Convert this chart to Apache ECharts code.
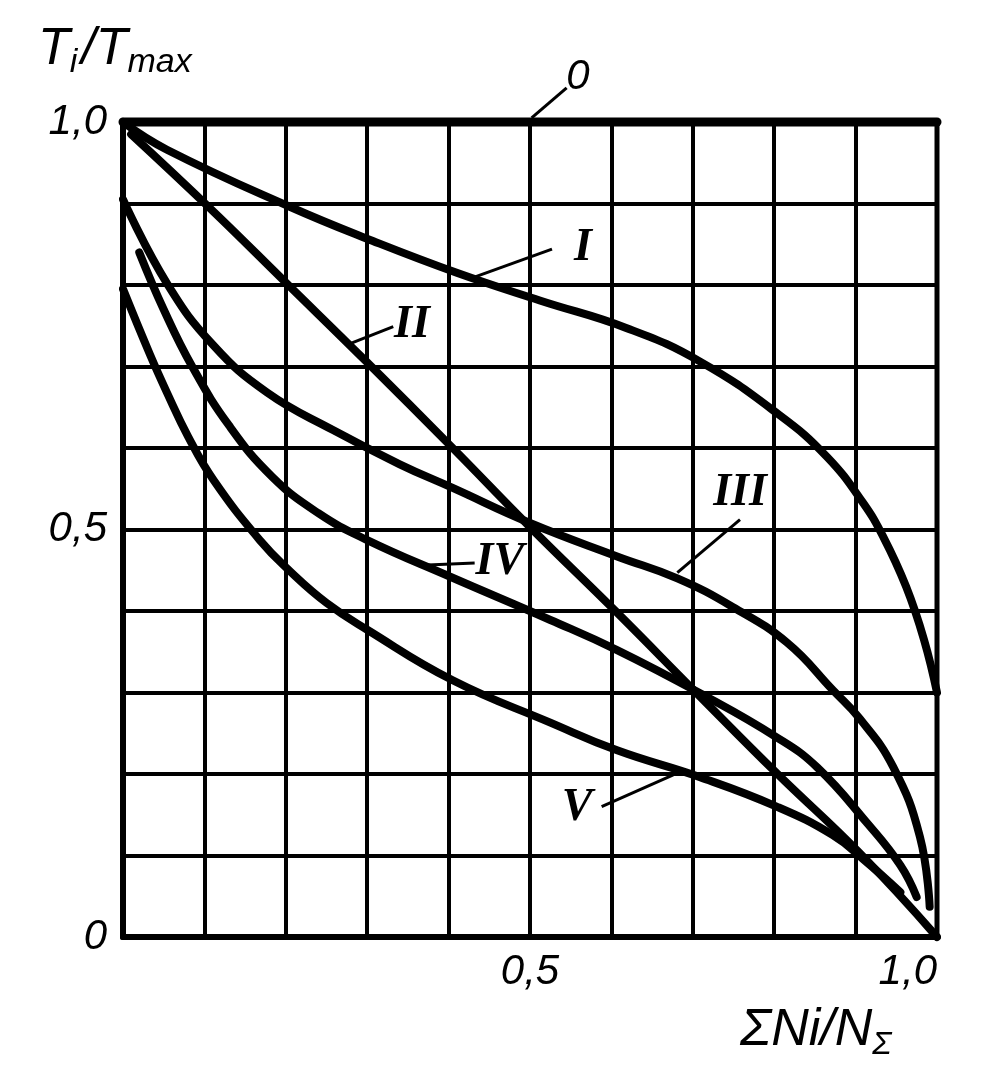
<!DOCTYPE html>
<html><head><meta charset="utf-8">
<script src="https://cdn.jsdelivr.net/npm/echarts@6/dist/echarts.min.js"></script>
<style>html,body{margin:0;padding:0;background:#fff}#c{width:984px;height:1087px}</style>
</head><body><div id="c"></div>
<script>
// tick labels shown (others are grid lines only)
const xTickLabels = {0.5: '0,5', 1: '1,0'};
const yTickLabels = {0: '0', 0.5: '0,5', 1: '1,0'};
// curves: [ΣNi/NΣ, Ti/Tmax]
const curve0 = [[0, 1.0], [1.0, 1.0]];
const curveI = [[0, 1.0], [0.054, 0.966], [0.205, 0.896], [0.307, 0.854], [0.41, 0.815], [0.512, 0.781], [0.619, 0.747], [0.709, 0.706], [0.807, 0.640], [0.865, 0.589], [0.909, 0.533], [0.934, 0.491], [0.962, 0.43], [0.984, 0.365], [1.0, 0.30]];
const curveII = [[0.01, 0.985], [0.107, 0.894], [0.201, 0.802], [0.3, 0.705], [0.405, 0.6], [0.5, 0.503], [0.607, 0.398], [0.705, 0.299], [0.803, 0.201], [0.905, 0.103], [1.0, 0.0]];
const curveIII = [[0, 0.905], [0.054, 0.802], [0.111, 0.726], [0.177, 0.668], [0.258, 0.622], [0.34, 0.580], [0.405, 0.551], [0.5, 0.508], [0.607, 0.467], [0.681, 0.440], [0.749, 0.405], [0.816, 0.361], [0.872, 0.303], [0.905, 0.268], [0.946, 0.209], [0.979, 0.123], [0.991, 0.037]];
const curveIV = [[0.02, 0.84], [0.05, 0.77], [0.085, 0.70], [0.13, 0.628], [0.183, 0.565], [0.24, 0.52], [0.3, 0.487], [0.402, 0.442], [0.525, 0.389], [0.607, 0.352], [0.709, 0.299], [0.803, 0.245], [0.853, 0.208], [0.914, 0.14], [0.955, 0.088], [0.975, 0.049]];
const curveV = [[0, 0.795], [0.033, 0.715], [0.054, 0.668], [0.08, 0.614], [0.111, 0.561], [0.168, 0.487], [0.205, 0.449], [0.25, 0.41], [0.3, 0.377], [0.405, 0.315], [0.525, 0.263], [0.607, 0.229], [0.709, 0.196], [0.803, 0.16], [0.872, 0.125], [0.91, 0.095], [0.955, 0.055]];
// curve labels and leader lines (data coords)
const curveNames = ['0', 'I', 'II', 'III', 'IV', 'V'];
const labelPos = [[0.559, 1.055], [0.565, 0.845], [0.355, 0.751], [0.758, 0.545], [0.463, 0.46], [0.558, 0.158]];
const leaders = [
  [[0.502, 1.005], [0.545, 1.042]],
  [[0.43, 0.809], [0.527, 0.844]],
  [[0.279, 0.728], [0.332, 0.749]],
  [[0.681, 0.447], [0.758, 0.512]],
  [[0.367, 0.456], [0.432, 0.459]],
  [[0.588, 0.16], [0.676, 0.199]]
];

const chart = echarts.init(document.getElementById('c'), null, {renderer: 'canvas'});
const makeFmt = tbl => v => {
  for (const k in tbl) { if (Math.abs(v - Number(k)) < 1e-6) return tbl[k]; }
  return '';
};
const curveSeries = (data, w) => ({
  type: 'line', data: data, smooth: 0.45, showSymbol: false, symbol: 'none', clip: false,
  lineStyle: {color: '#000', width: w, cap: 'round', join: 'round'}, z: 5, silent: true
});
const sansItalic = {fontFamily: 'Liberation Sans', fontStyle: 'italic', color: '#000'};
const romanLabel = {color: '#000', fontFamily: 'Liberation Serif', fontStyle: 'italic', fontWeight: 'bold', fontSize: 46, textBorderWidth: 0, opacity: 1};
const zeroLabel = {color: '#000', fontFamily: 'Liberation Sans', fontStyle: 'italic', fontWeight: 'normal', fontSize: 42, textBorderWidth: 0, opacity: 1};
chart.setOption({
  animation: false,
  backgroundColor: '#fff',
  grid: {left: 123, top: 122, width: 814, height: 815, show: true, borderColor: '#000', borderWidth: 5, backgroundColor: 'transparent'},
  xAxis: {
    type: 'value', min: 0, max: 1, interval: 0.1,
    axisLine: {show: true, lineStyle: {color: '#000', width: 6}},
    axisTick: {show: false},
    splitLine: {show: true, lineStyle: {color: '#000', width: 4}},
    axisLabel: Object.assign({formatter: makeFmt(xTickLabels), fontSize: 42, margin: 14, alignMaxLabel: 'right'}, sansItalic)
  },
  yAxis: {
    type: 'value', min: 0, max: 1, interval: 0.1,
    axisLine: {show: true, lineStyle: {color: '#000', width: 6}},
    axisTick: {show: false},
    splitLine: {show: true, lineStyle: {color: '#000', width: 4}},
    axisLabel: Object.assign({formatter: makeFmt(yTickLabels), fontSize: 42, margin: 16}, sansItalic)
  },
  graphic: [
    {type: 'text', left: 38, top: 24, z: 10, style: {
      text: '{a|T}{s|i}{a|/T}{s|max}',
      rich: {
        a: Object.assign({fontSize: 52, lineHeight: 60, verticalAlign: 'middle'}, sansItalic),
        s: Object.assign({fontSize: 34, lineHeight: 34, verticalAlign: 'bottom', padding: [0, 4, 0, 0]}, sansItalic)
      }
    }},
    {type: 'text', left: 740, top: 1005, z: 10, style: {
      text: '{a|ΣNi/N}{s|Σ}',
      rich: {
        a: Object.assign({fontSize: 52, lineHeight: 60, verticalAlign: 'middle'}, sansItalic),
        s: Object.assign({fontSize: 32, lineHeight: 30, verticalAlign: 'bottom'}, sansItalic)
      }
    }}
  ],
  series: [
    curveSeries(curve0, 9),
    curveSeries(curveI, 8),
    curveSeries(curveII, 8),
    curveSeries(curveIII, 8),
    curveSeries(curveIV, 8),
    curveSeries(curveV, 8),
    {
      type: 'lines', coordinateSystem: 'cartesian2d', clip: false, z: 6, silent: true,
      lineStyle: {color: '#000', width: 3, opacity: 1},
      data: leaders.map(c => ({coords: c}))
    },
    {
      type: 'scatter', symbolSize: 0, clip: false, z: 7, silent: true,
      itemStyle: {color: '#000'},
      data: labelPos.map((p, i) => ({value: p, name: curveNames[i],
        label: Object.assign({show: true, position: 'inside', formatter: curveNames[i]}, i === 0 ? zeroLabel : romanLabel)})),
      label: Object.assign({show: true, position: 'inside'}, romanLabel),
      labelLayout: {hideOverlap: false}
    }
  ]
});
</script>
</body></html>
